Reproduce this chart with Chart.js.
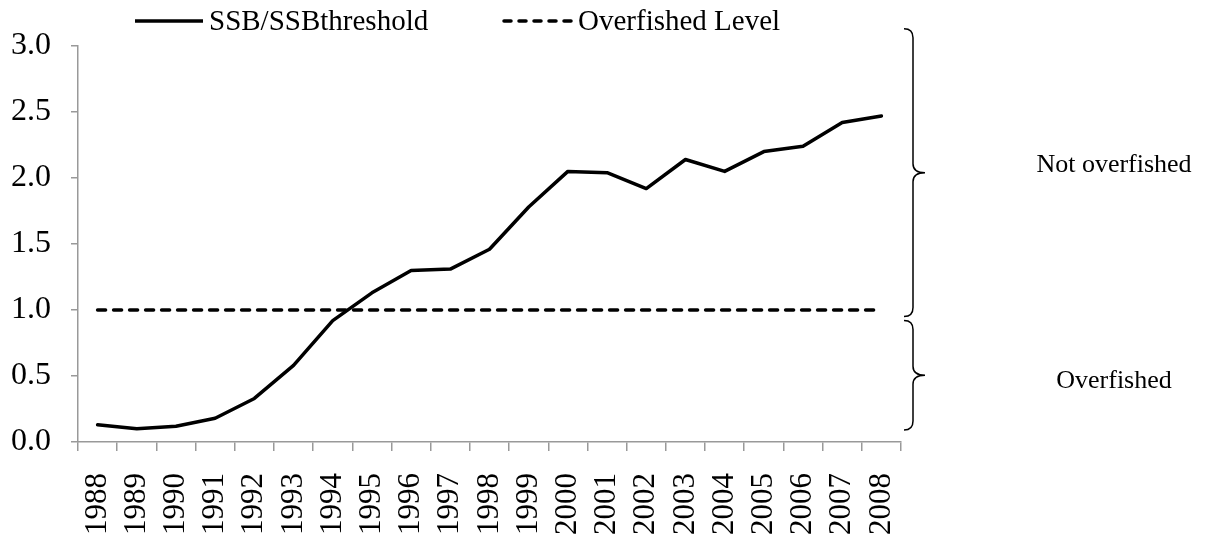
<!DOCTYPE html>
<html>
<head>
<meta charset="utf-8">
<script src="https://cdn.jsdelivr.net/npm/chart.js@4/dist/chart.umd.min.js"></script>
<style>
html,body{margin:0;padding:0;background:#fff;}
#wrap{position:relative;width:1212px;height:538px;}
</style>
</head>
<body>
<div id="wrap"><canvas id="c" width="1212" height="538"></canvas></div>
<script>
const years = ['1988','1989','1990','1991','1992','1993','1994','1995','1996','1997','1998','1999','2000','2001','2002','2003','2004','2005','2006','2007','2008'];
const ssbRatio = [0.13,0.10,0.12,0.18,0.33,0.58,0.92,1.13,1.30,1.31,1.46,1.78,2.05,2.04,1.92,2.14,2.05,2.20,2.24,2.42,2.47];
const overfishedLevel = [1,1,1,1,1,1,1,1,1,1,1,1,1,1,1,1,1,1,1,1,1];
const yTicks = [0,0.5,1.0,1.5,2.0,2.5,3.0];
const seriesNames = ['SSB/SSBthreshold','Overfished Level'];
const regionLabels = ['Not overfished','Overfished'];

const FONT = '"Liberation Serif", "Times New Roman", serif';

const bracePlugin = {
  id: 'braces',
  afterDraw(chart) {
    const ctx = chart.ctx;
    const ys = chart.scales.y;
    const ca = chart.chartArea;
    const xL = ca.right + 3, xM = ca.right + 12, xT = ca.right + 24;
    function brace(v0, v1) {
      const top = ys.getPixelForValue(v0), bot = ys.getPixelForValue(v1);
      const mid = (top + bot) / 2;
      const r = 9;
      ctx.beginPath();
      ctx.moveTo(xL, top);
      ctx.quadraticCurveTo(xM, top, xM, top + r);
      ctx.lineTo(xM, mid - r);
      ctx.quadraticCurveTo(xM, mid, xT, mid);
      ctx.quadraticCurveTo(xM, mid, xM, mid + r);
      ctx.lineTo(xM, bot - r);
      ctx.quadraticCurveTo(xM, bot, xL, bot);
      ctx.stroke();
      return mid;
    }
    ctx.save();
    ctx.strokeStyle = '#000';
    ctx.lineWidth = 1.5;
    const m1 = brace(3.13, 0.95);
    const m2 = brace(0.92, 0.09);
    ctx.fillStyle = '#000';
    ctx.font = '26px ' + FONT;
    ctx.textAlign = 'center';
    ctx.textBaseline = 'middle';
    ctx.fillText(regionLabels[0], 1114, m1 - 8);
    ctx.fillText(regionLabels[1], 1114, m2 + 6);
    ctx.restore();

    // legend
    ctx.save();
    ctx.font = '29px ' + FONT;
    ctx.fillStyle = '#000';
    ctx.textBaseline = 'middle';
    ctx.textAlign = 'left';
    const ly = 21;
    ctx.strokeStyle = '#000';
    ctx.lineWidth = 3.5;
    ctx.beginPath(); ctx.moveTo(135, ly); ctx.lineTo(203, ly); ctx.stroke();
    ctx.fillText(chart.data.datasets[0].label, 209, ly + 1);
    ctx.lineWidth = 3.5;
    ctx.lineCap = 'round';
    ctx.setLineDash([7, 8]);
    ctx.beginPath(); ctx.moveTo(504, ly); ctx.lineTo(572, ly); ctx.stroke();
    ctx.setLineDash([]);
    ctx.fillText(chart.data.datasets[1].label, 578, ly + 1);
    ctx.restore();
  }
};

new Chart(document.getElementById('c'), {
  type: 'line',
  data: {
    labels: years,
    datasets: [
      { label: seriesNames[0], data: ssbRatio, borderColor: '#000', borderWidth: 3.5, borderJoinStyle: 'round', borderCapStyle: 'round', pointRadius: 0, tension: 0, fill: false },
      { label: seriesNames[1], data: overfishedLevel, borderColor: '#000', borderWidth: 3.5, borderCapStyle: 'round', borderDash: [8,8], pointRadius: 0, tension: 0, fill: false }
    ]
  },
  options: {
    responsive: false,
    animation: false,
    layout: { padding: { left: 0, right: 311, top: 46, bottom: 0 } },
    plugins: { legend: { display: false }, tooltip: { enabled: false } },
    scales: {
      x: {
        offset: true,
        grid: { offset: true, drawOnChartArea: false, color: '#999', tickLength: 9, lineWidth: 1.5 },
        border: { color: '#999', width: 1.5 },
        ticks: { color: '#000', font: { family: FONT, size: 31 }, minRotation: 90, maxRotation: 90, autoSkip: false, padding: 22 },
        afterFit(s) { s.height = 96; }
      },
      y: {
        min: 0, max: 3,
        afterBuildTicks(s) { s.ticks = yTicks.map(v => ({ value: v })); },
        grid: { drawOnChartArea: false, color: '#999', tickLength: 7, lineWidth: 1.5 },
        border: { color: '#999', width: 1.5 },
        ticks: { color: '#000', font: { family: FONT, size: 32 }, padding: 20, callback: v => Number(v).toFixed(1) },
        afterFit(s) { s.width = 78; }
      }
    }
  },
  plugins: [bracePlugin]
});
</script>
</body>
</html>
